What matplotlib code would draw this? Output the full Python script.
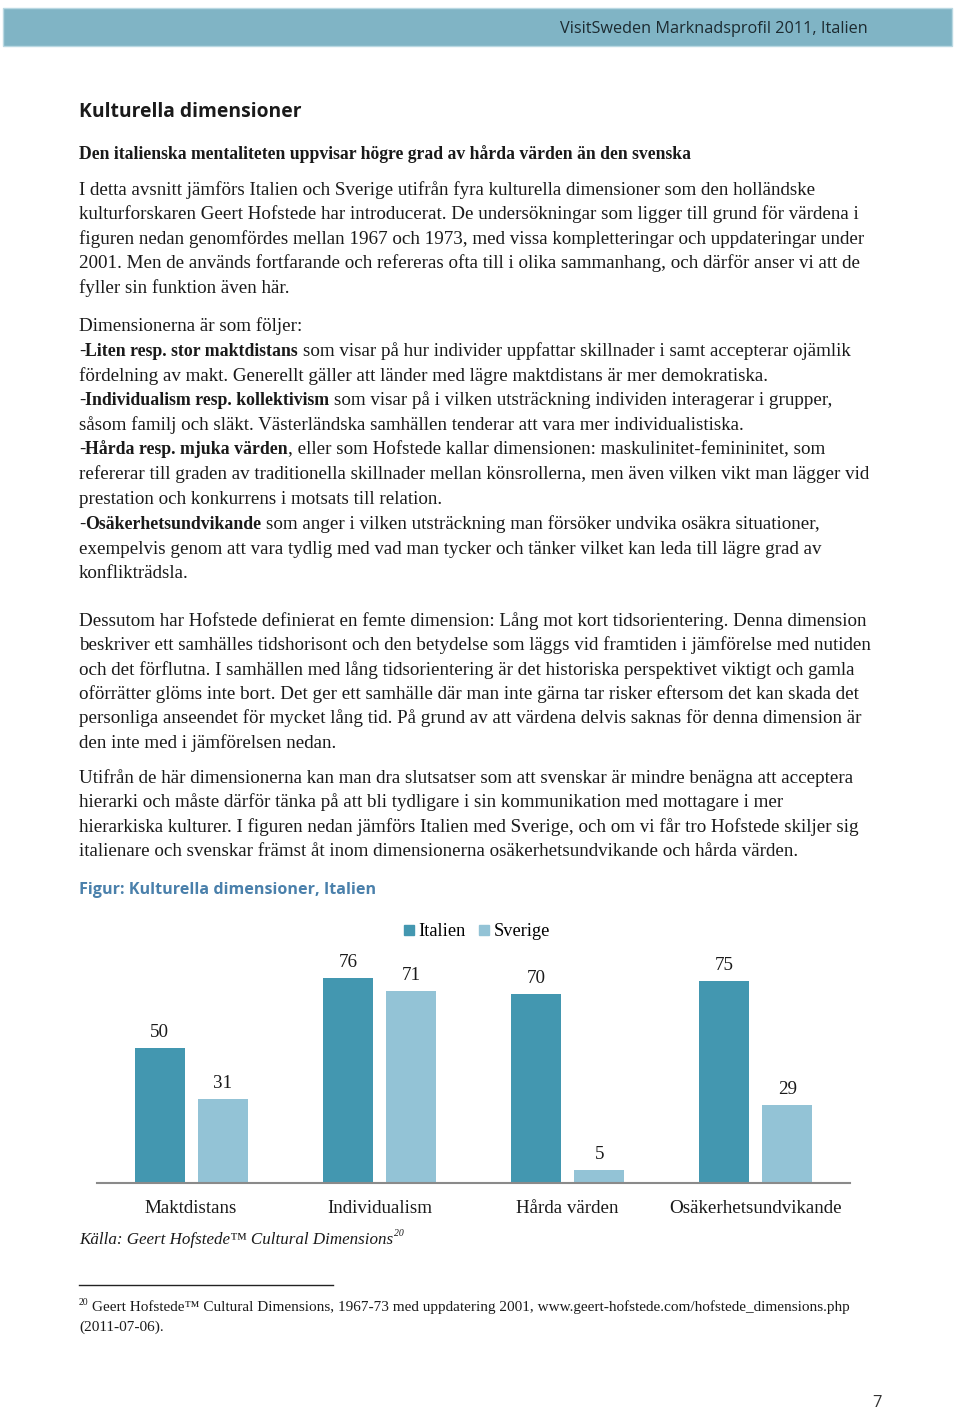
import matplotlib
matplotlib.use('Agg')
import matplotlib.pyplot as plt
from matplotlib.patches import Rectangle
from matplotlib.lines import Line2D
import numpy as np

# Chart data
categories = ['Maktdistans', 'Individualism', 'Hårda värden', 'Osäkerhetsundvikande']
italien = [50, 76, 70, 75]
sverige = [31, 71, 5, 29]
series_names = ['Italien', 'Sverige']

# Page text
header_text = 'VisitSweden Marknadsprofil 2011, Italien'
page_title = 'Kulturella dimensioner'
subheading = 'Den italienska mentaliteten uppvisar högre grad av hårda värden än den svenska'
figure_title = 'Figur: Kulturella dimensioner, Italien'
source_text = 'Källa: Geert Hofstede™ Cultural Dimensions'
footnote_lines = ['Geert Hofstede™ Cultural Dimensions, 1967-73 med uppdatering 2001, www.geert-hofstede.com/hofstede_dimensions.php',
                  '(2011-07-06).']
page_number = '7'

# (baseline y in px, list of (text, bold))
body_lines = [
    (194, [('I detta avsnitt jämförs Italien och Sverige utifrån fyra kulturella dimensioner som den holländske', False)]),
    (218, [('kulturforskaren Geert Hofstede har introducerat. De undersökningar som ligger till grund för värdena i', False)]),
    (243, [('figuren nedan genomfördes mellan 1967 och 1973, med vissa kompletteringar och uppdateringar under', False)]),
    (267, [('2001. Men de används fortfarande och refereras ofta till i olika sammanhang, och därför anser vi att de', False)]),
    (292, [('fyller sin funktion även här.', False)]),
    (330, [('Dimensionerna är som följer:', False)]),
    (355, [('-', False), ('Liten resp. stor maktdistans', True), ('som visar på hur individer uppfattar skillnader i samt accepterar ojämlik', False)]),
    (380, [('fördelning av makt. Generellt gäller att länder med lägre maktdistans är mer demokratiska.', False)]),
    (404, [('-', False), ('Individualism resp. kollektivism', True), ('som visar på i vilken utsträckning individen interagerar i grupper,', False)]),
    (429, [('såsom familj och släkt. Västerländska samhällen tenderar att vara mer individualistiska.', False)]),
    (453, [('-', False), ('Hårda resp. mjuka värden', True), (', eller som Hofstede kallar dimensionen: maskulinitet-femininitet, som', False)]),
    (478, [('refererar till graden av traditionella skillnader mellan könsrollerna, men även vilken vikt man lägger vid', False)]),
    (503, [('prestation och konkurrens i motsats till relation.', False)]),
    (528, [('-', False), ('Osäkerhetsundvikande', True), ('som anger i vilken utsträckning man försöker undvika osäkra situationer,', False)]),
    (553, [('exempelvis genom att vara tydlig med vad man tycker och tänker vilket kan leda till lägre grad av', False)]),
    (577, [('konflikträdsla.', False)]),
    (625, [('Dessutom har Hofstede definierat en femte dimension: Lång mot kort tidsorientering. Denna dimension', False)]),
    (649, [('beskriver ett samhälles tidshorisont och den betydelse som läggs vid framtiden i jämförelse med nutiden', False)]),
    (674, [('och det förflutna. I samhällen med lång tidsorientering är det historiska perspektivet viktigt och gamla', False)]),
    (698, [('oförrätter glöms inte bort. Det ger ett samhälle där man inte gärna tar risker eftersom det kan skada det', False)]),
    (722, [('personliga anseendet för mycket lång tid. På grund av att värdena delvis saknas för denna dimension är', False)]),
    (747, [('den inte med i jämförelsen nedan.', False)]),
    (782, [('Utifrån de här dimensionerna kan man dra slutsatser som att svenskar är mindre benägna att acceptera', False)]),
    (806, [('hierarki och måste därför tänka på att bli tydligare i sin kommunikation med mottagare i mer', False)]),
    (831, [('hierarkiska kulturer. I figuren nedan jämförs Italien med Sverige, och om vi får tro Hofstede skiljer sig', False)]),
    (855, [('italienare och svenskar främst åt inom dimensionerna osäkerhetsundvikande och hårda värden.', False)]),
]

W, H = 960, 1409
SERIF = 'Liberation Serif'
SANS = 'Open Sans'
TEXT_COLOR = '#1a1a1a'
BODY_SIZE = 13.7
BOLD_SIZE = 12.8
C_ITA = '#4397b0'
C_SVE = '#93c3d6'

fig = plt.figure(figsize=(W / 100, H / 100), dpi=100)
renderer = fig.canvas.get_renderer()


def fx(x):
    return x / W


def fy(y):
    return 1 - y / H


def text_width(s, **kw):
    t = fig.text(0, 0, s, **kw)
    w = t.get_window_extent(renderer).width
    t.remove()
    return w


def draw_runs(x, y, parts, size=BODY_SIZE, family=SERIF, style='normal'):
    space = text_width('x x', family=family, size=size) - text_width('xx', family=family, size=size)
    for i, (txt, bold) in enumerate(parts):
        if i > 0 and not txt.startswith(',') and parts[i - 1][0] != '-':
            x += space
        t = fig.text(fx(x), fy(y), txt, family=family, size=BOLD_SIZE if bold else size, style=style,
                     weight='bold' if bold else 'normal', color=TEXT_COLOR, va='baseline', ha='left')
        x += t.get_window_extent(renderer).width
    return x


# Header band
fig.patches.append(Rectangle((fx(3), fy(46)), fx(949), 38 / H, transform=fig.transFigure,
                             facecolor='#80b4c5', edgecolor='#b9d8e2', lw=1))
fig.text(fx(868), fy(33), header_text, family=SANS, size=11.7, color='#1c2a30', ha='right', va='baseline')

# Headings
fig.text(fx(79), fy(117), page_title, family=SANS, size=13.9, weight='bold', color=TEXT_COLOR, va='baseline')
fig.text(fx(79), fy(159), subheading, family=SERIF, size=12.7, weight='bold', color=TEXT_COLOR, va='baseline')

for y, parts in body_lines:
    draw_runs(79, y + 1, parts)

fig.text(fx(79), fy(894), figure_title, family=SANS, size=11.6, weight='bold', color='#4a80ab', va='baseline')

# Bar chart
ax = fig.add_axes([fx(97), fy(1183), fx(753), 270 / H])
x = np.arange(len(categories))
bw = 50 / 188
off = 31.5 / 188
b1 = ax.bar(x - off, italien, bw, color=C_ITA, label=series_names[0])
b2 = ax.bar(x + off, sverige, bw, color=C_SVE, label=series_names[1])
ax.bar_label(b1, padding=5, family=SERIF, size=BODY_SIZE, color=TEXT_COLOR)
ax.bar_label(b2, padding=5, family=SERIF, size=BODY_SIZE, color=TEXT_COLOR)
ax.set_xlim(-0.5, len(categories) - 0.5)
ax.set_ylim(0, 100)
ax.set_xticks(x)
ax.set_xticklabels(categories, family=SERIF, size=BODY_SIZE, color=TEXT_COLOR)
ax.tick_params(axis='x', length=0, pad=12)
ax.set_yticks([])
for side in ['top', 'right', 'left']:
    ax.spines[side].set_visible(False)
ax.spines['bottom'].set_color('#8a8a8a')
ax.spines['bottom'].set_linewidth(1.5)
ax.patch.set_visible(False)

handles = [Line2D([], [], marker='s', ls='', color=C_ITA, markersize=7),
           Line2D([], [], marker='s', ls='', color=C_SVE, markersize=7)]
ax.legend(handles, series_names, loc='center', bbox_to_anchor=(fx(477), fy(932)),
          bbox_transform=fig.transFigure, ncol=2, frameon=False, handlelength=0.5,
          handletextpad=0.25, columnspacing=0.8, prop={'family': SERIF, 'size': 13.2})

# Source line with superscript
end = draw_runs(79, 1244, [(source_text, False)], size=12.25, style='italic')
fig.text(fx(end + 1), fy(1236), '20', family=SERIF, size=7, style='italic', color=TEXT_COLOR, va='baseline')

# Footnote
fig.add_artist(Line2D([fx(79), fx(333)], [fy(1285), fy(1285)], transform=fig.transFigure, color='#222222', lw=1))
fig.text(fx(79), fy(1305), '20', family=SERIF, size=7, color=TEXT_COLOR, va='baseline')
fig.text(fx(92), fy(1311), footnote_lines[0], family=SERIF, size=10.95, color=TEXT_COLOR, va='baseline')
fig.text(fx(79), fy(1331), footnote_lines[1], family=SERIF, size=10.95, color=TEXT_COLOR, va='baseline')

fig.text(fx(877), fy(1407), page_number, family=SANS, size=12, color='#333333', ha='center', va='baseline')

fig.savefig('out.png', dpi=100)
